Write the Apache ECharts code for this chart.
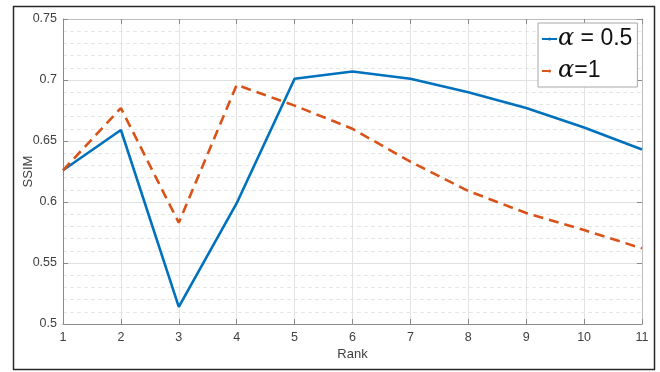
<!DOCTYPE html>
<html><head><meta charset="utf-8">
<script src="https://cdn.jsdelivr.net/npm/echarts@6/dist/echarts.min.js"></script>
<style>html,body{margin:0;padding:0;background:#fff}#c{width:660px;height:372px}</style>
</head><body><div id="c"></div>
<script>
const ranks = [1,2,3,4,5,6,7,8,9,10,11];
const ssimAlpha05 = [0.626,0.659,0.514,0.599,0.701,0.707,0.701,0.690,0.677,0.661,0.643];
const ssimAlpha1  = [0.626,0.677,0.583,0.696,0.679,0.660,0.633,0.609,0.591,0.577,0.562];
const seriesNames = ['α = 0.5','α=1'];
const yTicks = {min:0.5, max:0.75, step:0.05};
const xTicks = {min:1, max:11, step:1};

const chart = echarts.init(document.getElementById('c'), null, {renderer:'canvas'});
const font = 'Liberation Sans, Arial, sans-serif';
const axisCol = '#8a8a8a';
const txtCol = '#404040';
const baseX = {type:'value', min:xTicks.min, max:xTicks.max, interval:xTicks.step};
const baseY = {type:'value', min:yTicks.min, max:yTicks.max, interval:yTicks.step};
chart.setOption({
  animation:false,
  backgroundColor:'#fff',
  textStyle:{fontFamily:font},
  grid:{left:63,right:18,top:19,bottom:48,containLabel:false},
  xAxis:[
    Object.assign({}, baseX, {
      position:'bottom', name:'Rank', nameLocation:'middle', nameGap:24, nameMoveOverlap:false,
      nameTextStyle:{fontSize:13,color:txtCol,fontFamily:font},
      axisLine:{show:true,lineStyle:{color:axisCol,width:1}},
      axisTick:{show:true,inside:true,length:5,lineStyle:{color:axisCol}},
      axisLabel:{fontSize:12.5,color:txtCol,margin:7,fontFamily:font},
      splitLine:{show:true,lineStyle:{color:'#e3e3e3',width:1}}
    }),
    Object.assign({}, baseX, {
      position:'top',
      axisLine:{show:true,lineStyle:{color:'#bdbdbd',width:1}},
      axisTick:{show:true,inside:true,length:5,lineStyle:{color:axisCol}},
      axisLabel:{show:false}, splitLine:{show:false}
    })
  ],
  yAxis:[
    Object.assign({}, baseY, {
      position:'left', name:'SSIM', nameLocation:'middle', nameGap:28, nameMoveOverlap:false,
      nameTextStyle:{fontSize:13,color:txtCol,fontFamily:font},
      axisLine:{show:true,lineStyle:{color:axisCol,width:1}},
      axisTick:{show:true,inside:true,length:5,lineStyle:{color:axisCol}},
      axisLabel:{fontSize:12.5,color:txtCol,margin:6,fontFamily:font,
        formatter:v=>String(parseFloat(v.toFixed(2)))},
      splitLine:{show:true,lineStyle:{color:'#e0e0e0',width:1}},
      minorTick:{show:false,splitNumber:5},
      minorSplitLine:{show:true,lineStyle:{color:'#e6e6e6',width:1,type:[4,3]}}
    }),
    Object.assign({}, baseY, {
      position:'right',
      axisLine:{show:true,lineStyle:{color:'#bdbdbd',width:1}},
      axisTick:{show:true,inside:true,length:5,lineStyle:{color:axisCol}},
      axisLabel:{show:false}, splitLine:{show:false}
    })
  ],
  legend:{
    left:538, top:23, orient:'vertical', itemGap:8,
    padding:[4,5,4,3], itemWidth:15, itemHeight:4,
    backgroundColor:'#fff', borderColor:'#a8a8a8', borderWidth:1, borderRadius:0,
    textStyle:{fontSize:23,color:'#111',fontFamily:font,padding:[0,0,0,-4],
      rich:{a:{fontFamily:'DejaVu Serif, Liberation Serif, serif',fontStyle:'italic',fontSize:24,color:'#111'},
            t:{fontSize:23,color:'#111',fontFamily:font}}},
    formatter:n=>{const i=n.indexOf('α');return '{a|α}{t|'+n.slice(i+1)+'}';},
    data:[{name:seriesNames[0]},{name:seriesNames[1],lineStyle:{type:[6,30]}}]
  },
  series:[
    {name:seriesNames[0],type:'line',xAxisIndex:0,yAxisIndex:0,
     data:ranks.map((r,i)=>[r,ssimAlpha05[i]]),
     showSymbol:false,symbol:'none',
     lineStyle:{color:'#0072BD',width:2.6},itemStyle:{color:'#0072BD'}},
    {name:seriesNames[1],type:'line',xAxisIndex:0,yAxisIndex:0,
     data:ranks.map((r,i)=>[r,ssimAlpha1[i]]),
     showSymbol:false,symbol:'none',
     lineStyle:{color:'#D95319',width:2.6,type:[10,6]},itemStyle:{color:'#D95319'}}
  ],
  graphic:[{type:'rect',left:11,top:4,shape:{x:0,y:0,width:641,height:363},
    style:{fill:null,stroke:'#2a2a2a',lineWidth:1.5},silent:true,z:-1}]
});
</script></body></html>
